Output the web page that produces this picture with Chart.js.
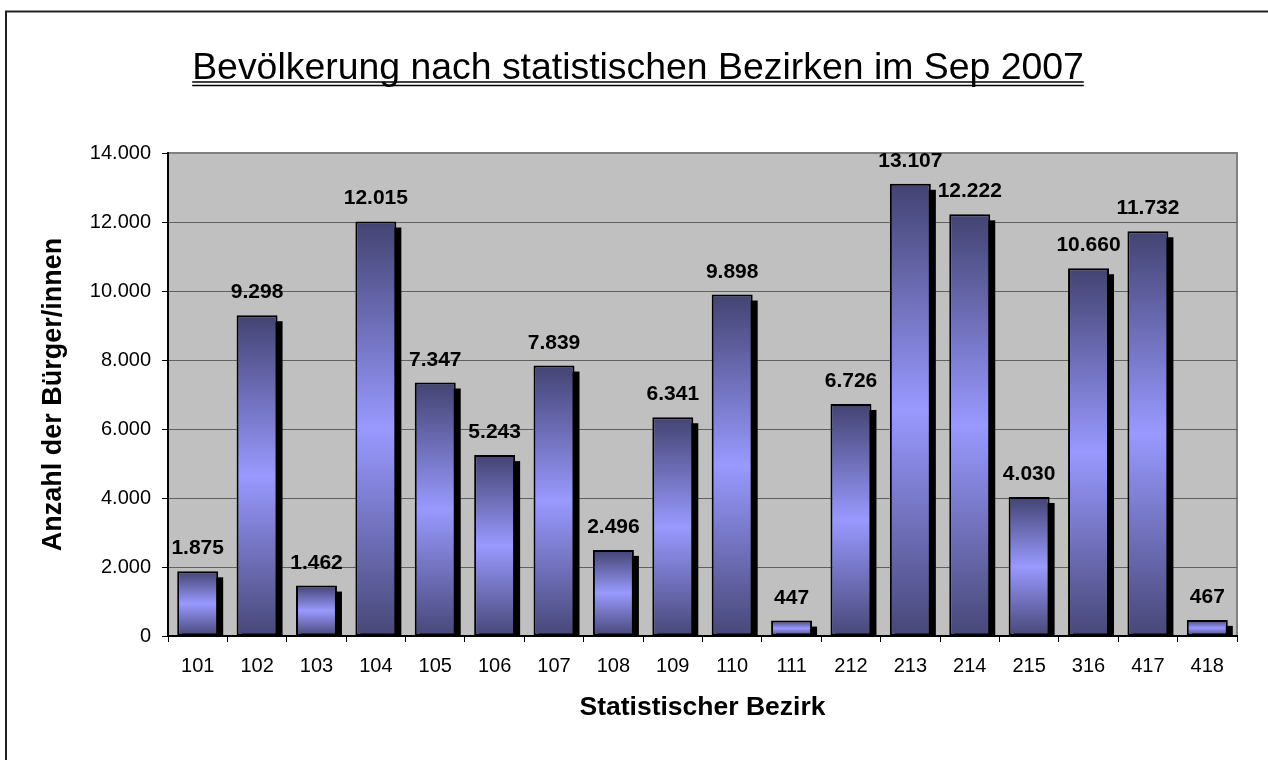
<!DOCTYPE html>
<html>
<head>
<meta charset="utf-8">
<script src="https://cdn.jsdelivr.net/npm/chart.js@4"></script>
<style>
  html, body { margin: 0; padding: 0; background: #fff; }
</style>
</head>
<body>
<canvas id="chart" width="1268" height="760"></canvas>
<script>
const districts = ['101', '102', '103', '104', '105', '106', '107', '108', '109',
  '110', '111', '212', '213', '214', '215', '316', '417', '418'];
const population = [1875, 9298, 1462, 12015, 7347, 5243, 7839, 2496, 6341,
  9898, 447, 6726, 13107, 12222, 4030, 10660, 11732, 467];
const yMax = 14000;
const yStep = 2000;

const chartTitle = 'Bevölkerung nach statistischen Bezirken im Sep 2007';
const xTitle = 'Statistischer Bezirk';
const yTitle = 'Anzahl der Bürger/innen';

const FONT = '"Liberation Sans", Arial, sans-serif';

// 12015 -> "12.015"
const fmt = v => String(v).replace(/\B(?=(\d{3})+(?!\d))/g, '.');

const background = {
  id: 'background',
  beforeDraw(chart) {
    const { ctx, chartArea: a } = chart;
    ctx.save();
    ctx.fillStyle = '#fff';
    ctx.fillRect(0, 0, chart.width, chart.height);
    // outer frame
    ctx.strokeStyle = '#222';
    ctx.lineWidth = 2;
    ctx.strokeRect(6, 11.5, 1400, 900);
    // plot area
    ctx.fillStyle = '#c0c0c0';
    ctx.fillRect(a.left, a.top, a.right - a.left, a.bottom - a.top);
    ctx.strokeStyle = '#808080';
    ctx.lineWidth = 2;
    ctx.beginPath();
    ctx.moveTo(a.left, a.top);
    ctx.lineTo(a.right, a.top);
    ctx.lineTo(a.right, a.bottom);
    ctx.stroke();
    ctx.restore();
  }
};

const barShadow = {
  id: 'barShadow',
  beforeDatasetsDraw(chart) {
    const { ctx, chartArea: a } = chart;
    const meta = chart.getDatasetMeta(0);
    ctx.save();
    ctx.beginPath();
    ctx.rect(a.left, a.top, a.right - a.left, a.bottom - a.top);
    ctx.clip();
    ctx.fillStyle = '#000';
    meta.data.forEach(bar => {
      const { x, y, base, width } = bar.getProps(['x', 'y', 'base', 'width'], true);
      ctx.fillRect(x - width / 2 + 5, y + 6, width, base - y);
    });
    ctx.restore();
  }
};

const valueLabels = {
  id: 'valueLabels',
  afterDatasetsDraw(chart) {
    const { ctx } = chart;
    const meta = chart.getDatasetMeta(0);
    ctx.save();
    ctx.font = 'bold 21px ' + FONT;
    ctx.fillStyle = '#000';
    ctx.textAlign = 'center';
    ctx.textBaseline = 'alphabetic';
    meta.data.forEach((bar, i) => {
      ctx.fillText(fmt(population[i]), bar.x, bar.y - 17);
    });
    ctx.restore();
  }
};

const underlinedTitle = {
  id: 'underlinedTitle',
  afterDraw(chart) {
    const { ctx } = chart;
    const cx = 638, baseY = 79;
    ctx.save();
    ctx.font = '37.4px ' + FONT;
    ctx.fillStyle = '#000';
    ctx.textAlign = 'center';
    ctx.textBaseline = 'alphabetic';
    ctx.fillText(chartTitle, cx, baseY);
    const w = ctx.measureText(chartTitle).width;
    ctx.strokeStyle = '#000';
    ctx.lineWidth = 1.5;
    ctx.beginPath();
    ctx.moveTo(cx - w / 2, baseY + 3);
    ctx.lineTo(cx + w / 2, baseY + 3);
    ctx.moveTo(cx - w / 2, baseY + 6.5);
    ctx.lineTo(cx + w / 2, baseY + 6.5);
    ctx.stroke();
    ctx.restore();
  }
};

function barGradient(context) {
  const chart = context.chart;
  const y = chart.scales.y;
  if (!y || context.type !== 'data') return '#9999ff';
  const top = y.getPixelForValue(context.raw);
  const base = y.getPixelForValue(0);
  if (!isFinite(top) || !isFinite(base) || top === base) return '#9999ff';
  const g = chart.ctx.createLinearGradient(0, top, 0, base);
  g.addColorStop(0, '#434372');
  g.addColorStop(0.5, '#9999ff');
  g.addColorStop(1, '#474778');
  return g;
}

new Chart(document.getElementById('chart'), {
  type: 'bar',
  data: {
    labels: districts,
    datasets: [{
      data: population,
      backgroundColor: barGradient,
      borderColor: '#000',
      borderWidth: 2,
      borderSkipped: false,
      barPercentage: 0.69,
      categoryPercentage: 1.0,
    }],
  },
  options: {
    responsive: false,
    devicePixelRatio: 1,
    animation: false,
    layout: { padding: { top: 153, right: 31, bottom: 0, left: 0 } },
    scales: {
      x: {
        afterFit: s => { s.height = 124; },
        grid: {
          offset: true,
          drawOnChartArea: false,
          tickLength: 6,
          tickColor: '#000',
        },
        border: { color: '#000', width: 2 },
        ticks: {
          color: '#000',
          font: { family: FONT, size: 20 },
          padding: 12,
          autoSkip: false,
          maxRotation: 0,
        },
        title: {
          display: true,
          text: xTitle,
          color: '#000',
          font: { family: FONT, size: 26.5, weight: 'bold' },
          padding: { top: 0, bottom: 36 },
        },
      },
      y: {
        min: 0,
        max: yMax,
        afterFit: s => { s.width = 168; },
        grid: {
          color: c => (c.tick && c.tick.value === yMax ? '#808080' : '#606060'),
          lineWidth: 1,
          tickLength: 6,
          tickColor: '#000',
        },
        border: { color: '#000', width: 2 },
        ticks: {
          stepSize: yStep,
          color: '#000',
          font: { family: FONT, size: 20 },
          padding: 11,
          callback: v => fmt(v),
        },
        title: {
          display: true,
          text: yTitle,
          color: '#000',
          font: { family: FONT, size: 27, weight: 'bold' },
          padding: { top: 37, bottom: 0 },
        },
      },
    },
    plugins: {
      legend: { display: false },
      tooltip: { enabled: false },
      title: { display: false },
    },
  },
  plugins: [background, barShadow, valueLabels, underlinedTitle],
});
</script>
</body>
</html>
